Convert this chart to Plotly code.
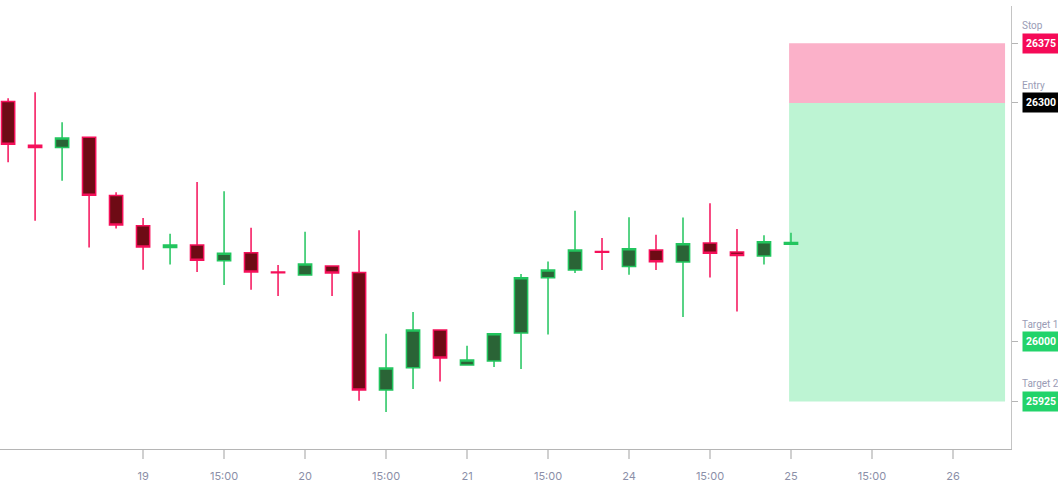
import plotly.graph_objects as go

# candle index along the x axis (one per bar)
bar_index = list(range(30))

opens = [26301.7, 26246.9, 26243.9, 26257.0, 26183.6, 26145.6, 26118.4, 26121.4, 26101.7, 26111.7,
         26087.5, 26083.7, 26095.0, 26087.0, 25939.3, 25967.3, 26014.6, 25970.7, 25975.7, 26010.9,
         26080.3, 26090.0, 26113.5, 26094.5, 26115.1, 26100.0, 26123.9, 26112.6, 26107.6, 26122.5]
highs = [26305.9, 26313.5, 26275.8, 26257.3, 26187.9, 26155.3, 26135.6, 26200.8, 26189.2, 26143.1,
         26096.3, 26138.1, 26095.0, 26140.2, 26010.0, 26037.2, 26015.0, 25994.9, 26011.0, 26085.0,
         26100.8, 26164.4, 26130.2, 26156.5, 26134.3, 26156.0, 26174.1, 26141.5, 26133.9, 26136.8]
lows = [26225.6, 26151.9, 26202.1, 26118.4, 26142.2, 26090.4, 26097.0, 26087.5, 26071.1, 26065.2,
        26057.3, 26083.0, 26057.3, 25925.9, 25911.7, 25940.6, 25950.1, 25970.0, 25968.2, 25965.7,
        26009.1, 26086.2, 26090.0, 26084.1, 26090.0, 26031.0, 26080.7, 26038.0, 26097.0, 26122.0]
closes = [26248.2, 26243.9, 26256.1, 26184.1, 26146.5, 26118.9, 26121.4, 26102.5, 26111.3, 26087.5,
          26086.5, 26097.5, 26086.2, 25939.3, 25966.9, 26014.6, 25979.5, 25977.0, 26010.0, 26080.3,
          26090.0, 26115.1, 26112.5, 26116.7, 26100.4, 26123.0, 26111.3, 26108.3, 26125.5, 26124.5]

tick_pos = [5, 8, 11, 14, 17, 20, 23, 26, 29, 32, 35]
tick_text = ["19", "15:00", "20", "15:00", "21", "15:00", "24", "15:00", "25", "15:00", "26"]

# trade setup levels
level_names = ["Stop", "Entry", "Target 1", "Target 2"]
level_values = [26375, 26300, 26000, 25925]
level_colors = ["#f50a57", "#000000", "#22d36a", "#22d36a"]
zone_start = 28.93
zone_end = 36.93

red_line = "#f5105a"
green_line = "#22c55e"

fig = go.Figure()

fig.add_trace(go.Candlestick(
    x=bar_index, open=opens, high=highs, low=lows, close=closes,
    increasing=dict(line=dict(color=green_line, width=1.5), fillcolor="#2a6436"),
    decreasing=dict(line=dict(color=red_line, width=1.5), fillcolor="#6e0b15"),
    whiskerwidth=0,
    showlegend=False,
))

# risk / reward zones
fig.add_shape(type="rect", x0=zone_start, x1=zone_end, y0=level_values[1], y1=level_values[0],
              fillcolor="#fbb1c9", line_width=0, layer="below")
fig.add_shape(type="rect", x0=zone_start, x1=zone_end, y0=level_values[3], y1=level_values[1],
              fillcolor="#bdf4d3", line_width=0, layer="below")

for name, val, col in zip(level_names, level_values, level_colors):
    fig.add_annotation(x=1, xref="paper", xshift=11, y=val, yref="y", text="<b>" + str(val) + "</b>",
                       showarrow=False, xanchor="left", bgcolor=col, borderpad=3,
                       font=dict(color="white", size=10.5, family="Roboto"))
    fig.add_annotation(x=1, xref="paper", xshift=9, y=val, yref="y", yshift=10, text=name,
                       showarrow=False, xanchor="left", yanchor="bottom",
                       font=dict(color="#9a9cb5", size=10, family="Roboto"))

fig.update_layout(
    width=1058, height=482,
    margin=dict(l=0, r=47, t=6, b=33),
    plot_bgcolor="white", paper_bgcolor="white",
    font=dict(family="Inter", color="#8b8fa8", size=11),
    xaxis=dict(range=[-0.3, 37.15], tickvals=tick_pos, ticktext=tick_text,
               showgrid=False, zeroline=False, rangeslider=dict(visible=False),
               showline=True, linecolor="#b5b5b5", linewidth=1,
               ticks="outside", ticklen=9, tickcolor="#d0d0d0", tickwidth=2,
               ticklabelstandoff=8,
               tickfont=dict(size=11, color="#8b8fa8")),
    yaxis=dict(range=[25865.2, 26421.8], side="right", showgrid=False, zeroline=False,
               showline=True, linecolor="#c4c4c4", linewidth=1,
               tickvals=level_values, showticklabels=False,
               ticks="outside", ticklen=6, tickcolor="#b5b5b5"),
)

# drop the page's default body margin so the chart sits at the window corner
fig.write_html("out.html", config={"displayModeBar": False},
               post_script="document.body.style.margin='0px';")
